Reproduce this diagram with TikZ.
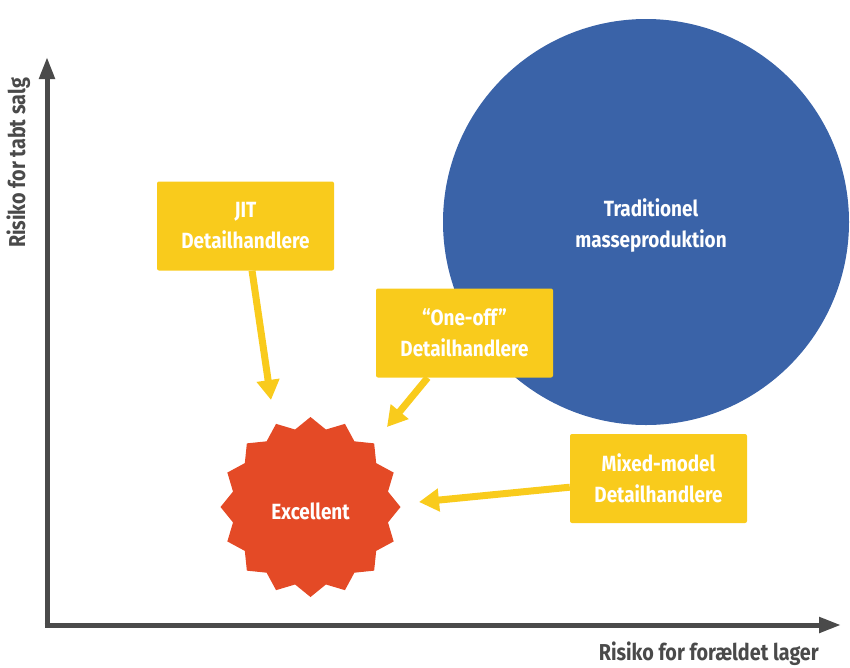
\documentclass[tikz,border=0pt]{standalone}
\usepackage{fontspec}
\setmainfont{Fira Sans}[FakeStretch=0.86]
\usetikzlibrary{arrows.meta,calc}
\definecolor{boxyellow}{HTML}{F9CB1C}
\definecolor{bigblue}{HTML}{3A63A8}
\definecolor{starred}{HTML}{E44A26}
\definecolor{axisgray}{HTML}{4A4A4A}
\tikzset{
  ybox/.style={fill=boxyellow, rounded corners=2pt, minimum width=177pt, minimum height=89pt,
    inner sep=0pt, text=white, align=center, font=\fontsize{22}{31}\selectfont\bfseries},
  yarrow/.style={draw=boxyellow, line width=7pt, -{Triangle[length=20pt,width=22pt]}},
  axisline/.style={draw=axisgray, line width=5pt, -{Triangle[length=22pt,width=15pt]}},
  axislabel/.style={text=axisgray, font=\fontsize{23}{26}\selectfont\bfseries, inner sep=0pt},
  whitetext/.style={text=white, align=center, font=\fontsize{22}{31}\selectfont\bfseries}
}
\begin{document}
\begin{tikzpicture}[x=1pt,y=-1pt]
\useasboundingbox (0,0) rectangle (850,667);
% big circle
\begin{scope}
\clip (0,0) rectangle (850,667);
\fill[bigblue] (646,222) circle (203);
\end{scope}
\node[whitetext] (trad) at (651,226) {Traditionel\\masseproduktion};
% axes
\coordinate (origin) at (47,625);
\coordinate (ytip) at (47,57);
\coordinate (xtip) at (841,625);
\draw[axisline] ($(origin)+(0,2.5)$) -- (ytip);
\draw[axisline] ($(origin)+(-2.5,0)$) -- (xtip);
\node[axislabel, anchor=base east] (xlab) at (819,660) {Risiko for forældet lager};
\node[axislabel, rotate=90, anchor=base] (ylab) at (25,163) {Risiko for tabt salg};
% star
\fill[starred] plot[samples at={0,...,31}, variable=\k]
  ({310.5+ (mod(\k,2)==0 ? 90 : 79)*cos(90+\k*11.25)}, {507 - (mod(\k,2)==0 ? 90 : 79)*sin(90+\k*11.25)}) -- cycle;
\node[whitetext] (exc) at (310.5,511) {Excellent};
% boxes
\node[ybox] (jit) at (245.5,226) {JIT\\Detailhandlere};
\node[ybox] (one) at (464.5,333) {``One-off''\\Detailhandlere};
\node[ybox] (mix) at (658.5,478.5) {Mixed-model\\Detailhandlere};
% arrow tips
\coordinate (jittip) at (271,400);
\coordinate (onetip) at (387,427);
\coordinate (mixtip) at (419,502);
\draw[yarrow] (jit) -- (jittip);
\draw[yarrow] (one) -- (onetip);
\draw[yarrow] (mix) -- (mixtip);
\end{tikzpicture}
\end{document}
